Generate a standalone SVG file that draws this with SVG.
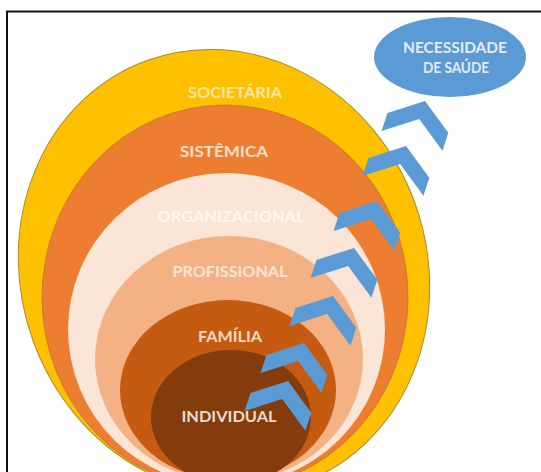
<svg xmlns="http://www.w3.org/2000/svg" xmlns:xlink="http://www.w3.org/1999/xlink" width="541" height="472" viewBox="0 0 541 472">
  <style>
    .lbl { font-family: Lato, "Liberation Sans", Arial, sans-serif; font-weight: bold; font-size: 14.5px; text-anchor: middle; }
    .chev { fill: #5B9BD5; }
  </style>
  <defs>
    <!-- chevron pointing up, apex at the origin -->
    <polygon id="chevron" points="0,0 32,23 32,42 0,19 -32,42 -32,23"/>
  </defs>

  <rect x="0" y="0" width="541" height="472" fill="#ffffff"/>
  <!-- frame (left and top edges visible) -->
  <path d="M7,472 V11.5 H541" fill="none" stroke="#111111" stroke-width="2"/>

  <g id="ring-societaria">
    <ellipse cx="0" cy="0" rx="203" ry="225" transform="translate(224 272) rotate(-20)" fill="#FFC000" stroke="#a88a2a" stroke-width="1"/>
    <text class="lbl" x="235" y="98" fill="#fde9a6" textLength="94" lengthAdjust="spacingAndGlyphs">SOCIETÁRIA</text>
  </g>
  <g id="ring-sistemica">
    <ellipse cx="225" cy="297" rx="183" ry="192" fill="#ED7D31" stroke="#b8792c" stroke-width="0.8"/>
    <text class="lbl" x="224" y="157" fill="#fbe0cc" textLength="88" lengthAdjust="spacingAndGlyphs">SISTÊMICA</text>
  </g>
  <g id="ring-organizacional">
    <ellipse cx="226.5" cy="329.5" rx="158.5" ry="156.5" fill="#FBE5D6"/>
    <text class="lbl" x="231" y="222" fill="#fff8f3" textLength="147" lengthAdjust="spacingAndGlyphs">ORGANIZACIONAL</text>
  </g>
  <g id="ring-profissional">
    <ellipse cx="229" cy="359" rx="134" ry="123" fill="#F4B183"/>
    <text class="lbl" x="230" y="277" fill="#fbe6d8" textLength="115" lengthAdjust="spacingAndGlyphs">PROFISSIONAL</text>
  </g>
  <g id="ring-familia">
    <ellipse cx="228" cy="390" rx="108" ry="90" fill="#C55A11"/>
    <text class="lbl" x="230" y="342" fill="#f6d9c4" textLength="64" lengthAdjust="spacingAndGlyphs">FAMÍLIA</text>
  </g>
  <g id="ring-individual">
    <ellipse cx="231" cy="417" rx="80" ry="67" fill="#843C0C"/>
    <text class="lbl" x="229" y="422" fill="#ecdccf" textLength="95" lengthAdjust="spacingAndGlyphs">INDIVIDUAL</text>
  </g>

  <g id="connectors">
    <use xlink:href="#chevron" class="chev" transform="translate(288 381) rotate(18)"/>
    <use xlink:href="#chevron" class="chev" transform="translate(304 343) rotate(18)"/>
    <use xlink:href="#chevron" class="chev" transform="translate(333 296) rotate(18)"/>
    <use xlink:href="#chevron" class="chev" transform="translate(354 248) rotate(18)"/>
    <use xlink:href="#chevron" class="chev" transform="translate(377 201) rotate(18)"/>
    <use xlink:href="#chevron" class="chev" transform="translate(406 146) rotate(18)"/>
    <use xlink:href="#chevron" class="chev" transform="translate(425 101) rotate(18)"/>
  </g>

  <g id="necessidade-de-saude">
    <ellipse cx="450" cy="57" rx="76" ry="40" fill="#5B9BD5"/>
    <text class="lbl" x="455" y="53" fill="#e4ebf3" font-size="14" textLength="104" lengthAdjust="spacingAndGlyphs">NECESSIDADE</text>
    <text class="lbl" x="456" y="73" fill="#e4ebf3" font-size="14" textLength="66" lengthAdjust="spacingAndGlyphs">DE SAÚDE</text>
  </g>
</svg>
